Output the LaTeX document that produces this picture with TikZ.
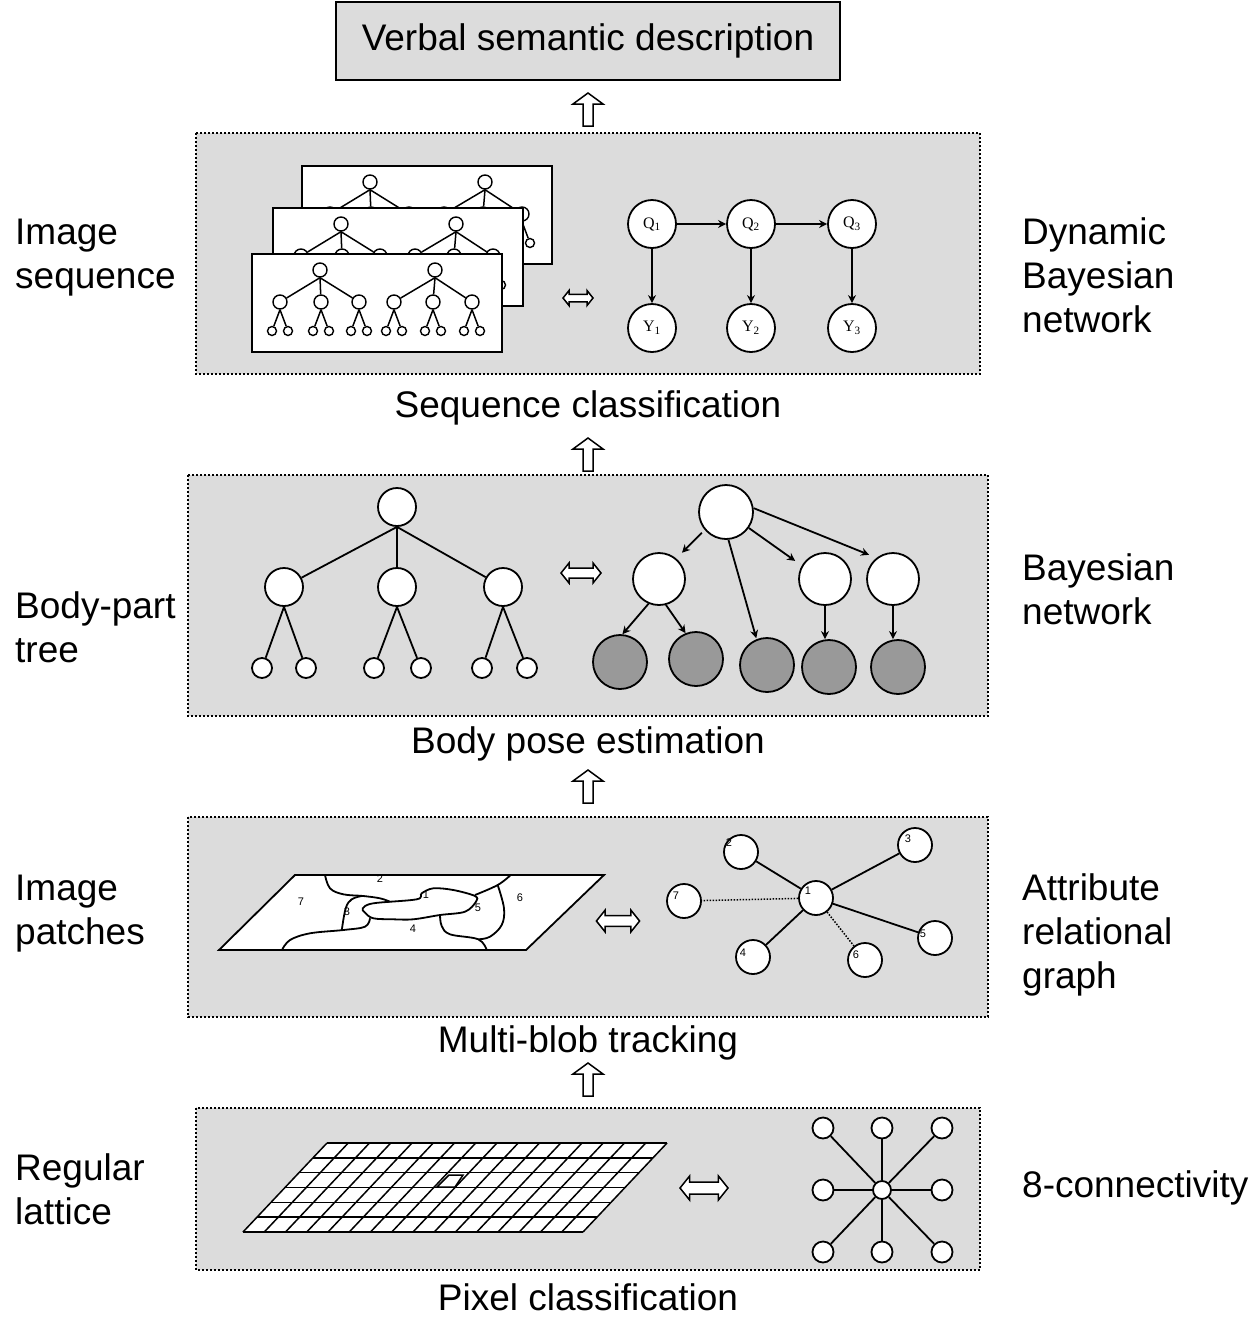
\documentclass[tikz,border=0pt]{standalone}
\usepackage{fontspec}
\setmainfont{Liberation Sans}
\newfontfamily\serifq{Liberation Serif}
\usetikzlibrary{arrows.meta}
\definecolor{panelgray}{RGB}{220,220,220}
\definecolor{leafgray}{RGB}{153,153,153}
\tikzset{
  panel/.style={fill=panelgray, draw=black, line width=2pt, dash pattern=on 2pt off 2pt},
  big/.style={font=\fontsize{37}{44}\selectfont, inner sep=0pt},
  sc/.style={circle, draw, fill=white, line width=1.4pt, inner sep=0pt, minimum size=#1},
  bc/.style={circle, draw, fill=white, line width=1.8pt, inner sep=0pt, minimum size=#1},
  gc/.style={circle, draw, fill=leafgray, line width=1.8pt, inner sep=0pt, minimum size=#1},
  edge1/.style={line width=1.5pt},
  edge2/.style={line width=1.8pt},
  arr/.style={line width=1.8pt, -{Stealth[length=8pt,width=8pt]}},
  dot/.style={line width=1.5pt, dash pattern=on 1.5pt off 1.5pt},
  num/.style={font=\fontsize{11}{11}\selectfont, inner sep=0pt},
  qlab/.style={font=\serifq\fontsize{16}{16}\selectfont},
  uparrow/.pic={\draw[fill=white, line width=1.5pt] (-5,16) -- (-5,-6) -- (-15,-6) -- (0,-17) -- (15,-6) -- (5,-6) -- (5,16) -- cycle;},
  dblarrow/.pic={\draw[fill=white, line width=1.5pt] (-20,0) -- (-12,-10) -- (-12,-5) -- (12,-5) -- (12,-10) -- (20,0) -- (12,10) -- (12,5) -- (-12,5) -- (-12,10) -- cycle;},
  seqframe/.pic={
    \draw[fill=white, line width=1.5pt] (0,0) rectangle (250,98);
    \node[sc=14] (-ra) at (68,16) {};
    \node[sc=14] (-rb) at (183,16) {};
    \foreach \n/\x in {a1/28,a2/69,a3/107,b1/142,b2/181,b3/220} {
      \node[sc=14] (-c\n) at (\x,48) {};
      \node[sc=9] (-\n l) at (\x-8,77) {};
      \node[sc=9] (-\n r) at (\x+8,77) {};
      \draw[edge1] (-c\n.south) -- (-\n l);
      \draw[edge1] (-c\n.south) -- (-\n r);
    }
    \draw[edge1] (-ra.south) -- (-ca1);
    \draw[edge1] (-ra.south) -- (-ca2);
    \draw[edge1] (-ra.south) -- (-ca3);
    \draw[edge1] (-rb.south) -- (-cb1);
    \draw[edge1] (-rb.south) -- (-cb2);
    \draw[edge1] (-rb.south) -- (-cb3);
  }
}
\begin{document}
\begin{tikzpicture}[x=1pt,y=-1pt]
\useasboundingbox (0,0) rectangle (1258,1320);
\fill[white] (0,0) rectangle (1258,1320);

% top box
\node[draw, fill=panelgray, line width=1.8pt, minimum width=504pt, minimum height=78pt, big] (top) at (588,41) {Verbal semantic description};

% panels
\draw[panel] (196,133) rectangle (980,374);
\draw[panel] (188,475) rectangle (988,716);
\draw[panel] (188,817) rectangle (988,1017);
\draw[panel] (196,1108) rectangle (980,1270);

% up arrows
\pic at (588,110) {uparrow};
\pic at (588,455) {uparrow};
\pic at (588,787) {uparrow};
\pic at (588,1080) {uparrow};

% double arrows
\pic[scale=0.75] at (578,298) {dblarrow};
\pic at (581,573) {dblarrow};
\pic[scale=1.08] at (618,921) {dblarrow};
\pic[scale=1.2] at (704,1188) {dblarrow};

% side labels (base = baseline of last line)
\node[big, anchor=base west, align=left] (l1) at (15,288) {Image\\sequence};
\node[big, anchor=base west, align=left] (l2) at (15,662) {Body-part\\tree};
\node[big, anchor=base west, align=left] (l3) at (15,944) {Image\\patches};
\node[big, anchor=base west, align=left] (l4) at (15,1224) {Regular\\lattice};
\node[big, anchor=base west, align=left] (r1) at (1022,332) {Dynamic\\Bayesian\\network};
\node[big, anchor=base west, align=left] (r2) at (1022,624) {Bayesian\\network};
\node[big, anchor=base west, align=left] (r3) at (1022,988) {Attribute\\relational\\graph};
\node[big, anchor=base west] (r4) at (1022,1197) {8-connectivity};

% captions
\node[big, anchor=base] (c1) at (588,417) {Sequence classification};
\node[big, anchor=base] (c2) at (588,753) {Body pose estimation};
\node[big, anchor=base] (c3) at (588,1052) {Multi-blob tracking};
\node[big, anchor=base] (c4) at (588,1310) {Pixel classification};

% ---- panel 1: image sequence frames
\pic (fb) at (302,166) {seqframe};
\pic (fm) at (273,208) {seqframe};
\pic (ff) at (252,254) {seqframe};

% DBN
\node[bc=48, qlab] (q1) at (652,224) {Q\textsubscript{1}};
\node[bc=48, qlab] (q2) at (751,224) {Q\textsubscript{2}};
\node[bc=48, qlab] (q3) at (852,224) {Q\textsubscript{3}};
\node[bc=48, qlab] (y1) at (652,328) {Y\textsubscript{1}};
\node[bc=48, qlab] (y2) at (751,328) {Y\textsubscript{2}};
\node[bc=48, qlab] (y3) at (852,328) {Y\textsubscript{3}};
\draw[arr] (q1) -- (q2);
\draw[arr] (q2) -- (q3);
\draw[arr] (q1) -- (y1);
\draw[arr] (q2) -- (y2);
\draw[arr] (q3) -- (y3);

% ---- panel 2: body-part tree
\node[bc=38] (br) at (397,507) {};
\node[bc=38] (b1) at (284,587) {};
\node[bc=38] (b2) at (397,587) {};
\node[bc=38] (b3) at (503,587) {};
\foreach \p/\xa/\xb in {b1/262/306, b2/374/421, b3/482/527} {
  \node[bc=20] (\p a) at (\xa,668) {};
  \node[bc=20] (\p b) at (\xb,668) {};
  \draw[edge2] (\p.south) -- (\p a);
  \draw[edge2] (\p.south) -- (\p b);
}
\draw[edge2] (br.south) -- (b1);
\draw[edge2] (br.south) -- (b2);
\draw[edge2] (br.south) -- (b3);

% Bayesian network
\node[bc=54] (nr) at (726,512) {};
\node[bc=52] (na) at (659,579) {};
\node[bc=52] (nb) at (825,579) {};
\node[bc=52] (nc) at (893,579) {};
\node[gc=54] (g1) at (620,662) {};
\node[gc=54] (g2) at (696,659) {};
\node[gc=54] (g3) at (767,665) {};
\node[gc=54] (g4) at (829,667) {};
\node[gc=54] (g5) at (898,667) {};
\draw[arr, shorten <=4pt, shorten >=8pt] (nr.-140) -- (na.50);
\draw[arr, shorten >=1pt] (nr.-85) -- (g3.112);
\draw[arr, shorten >=8pt] (nr.-35) -- (nb.150);
\draw[arr, shorten >=8pt] (nr.8) -- (nc.128);
\draw[arr] (na.-113) -- (g1.85);
\draw[arr] (na.-75) -- (g2.112);
\draw[arr] (nb.south) -- (nb.south |- g4.north);
\draw[arr] (nc.south) -- (nc.south |- g5.north);

% ---- panel 3: image patches
\fill[white] (219,950) -- (526,950) -- (604,875) -- (295,875) -- cycle;
\begin{scope}[line width=1.8pt]
\draw plot[smooth cycle, tension=0.55] coordinates {(362.7,908.3) (373.3,903.3) (416.7,899.3) (421.7,893.3) (433.3,888.3) (453.3,890) (475,896) (476,901.7) (465,911.7) (440,915) (413.3,919.3) (393.3,919.3) (373.3,918.3) (365,912.7)};
\draw plot[smooth, tension=0.6] coordinates {(325,875) (330,888.3) (343.3,894.3) (363.3,896) (380,898.3) (390,901.7)};
\draw plot[smooth, tension=0.6] coordinates {(361.7,896) (351.7,899.3) (345.7,908.3) (341.7,930.7)};
\draw plot[smooth, tension=0.6] coordinates {(370,918.3) (365,926.7) (343.3,930) (310,933.3) (290,940) (282,950)};
\draw plot[smooth, tension=0.6] coordinates {(510.7,875) (497.7,885) (475,895)};
\draw plot[smooth, tension=0.6] coordinates {(497.7,885) (504,908.3) (501.7,925) (490,936.7) (478.3,939.3)};
\draw plot[smooth, tension=0.6] coordinates {(440,915) (441.7,926) (450,934.3) (478.3,939.3) (486.7,950)};
\draw (219,950) -- (526,950) -- (604,875) -- (295,875) -- cycle;
\end{scope}
\node[num] (p2) at (380,879) {2};
\node[num] (p1) at (426,895) {1};
\node[num] (p7) at (301,902) {7};
\node[num] (p3) at (347,912) {3};
\node[num] (p5) at (478,908) {5};
\node[num] (p6) at (520,898) {6};
\node[num] (p4) at (413,929) {4};

% attribute relational graph
\node[bc=34, label={[num, xshift=-8pt, yshift=7pt]center:1}] (a1) at (816,898) {};
\node[bc=34, label={[num, xshift=-12pt, yshift=9pt]center:2}] (a2) at (741,852) {};
\node[bc=34, label={[num, xshift=-7pt, yshift=6pt]center:3}] (a3) at (915,845) {};
\node[bc=34, label={[num, xshift=-10pt, yshift=4pt]center:4}] (a4) at (753,957) {};
\node[bc=34, label={[num, xshift=-12pt, yshift=4pt]center:5}] (a5) at (935,938) {};
\node[bc=34, label={[num, xshift=-9pt, yshift=5pt]center:6}] (a6) at (865,960) {};
\node[bc=34, label={[num, xshift=-8pt, yshift=5pt]center:7}] (a7) at (684,901) {};
\draw[edge2] (a1) -- (a2);
\draw[edge2] (a1) -- (a3);
\draw[edge2] (a1) -- (a4);
\draw[edge2] (a1) -- (a5);
\draw[dot] (a1) -- (a7);
\draw[dot] (a1) -- (a6);

% ---- panel 4: regular lattice
\fill[white] (243,1232) -- (583,1232) -- (667,1143) -- (327,1143) -- cycle;
\begin{scope}[line width=1.5pt]
\foreach \i in {0,...,16} \draw (243+\i*21.25,1232) -- (327+\i*21.25,1143);
\foreach \j in {0,...,6} \draw (243+\j*14,1232-\j*14.8333) -- (583+\j*14,1232-\j*14.8333);
\draw (437,1187) -- (455,1187) -- (463,1175) -- (449,1175) -- cycle;
\end{scope}

% 8-connectivity
\node[bc=18] (k0) at (882,1190) {};
\foreach \n/\x/\y in {k1/823/1128, k2/882/1128, k3/942/1128, k4/823/1190, k5/942/1190, k6/823/1252, k7/882/1252, k8/942/1252} {
  \node[bc=21] (\n) at (\x,\y) {};
  \draw[edge2] (k0) -- (\n);
}
\end{tikzpicture}
\end{document}
